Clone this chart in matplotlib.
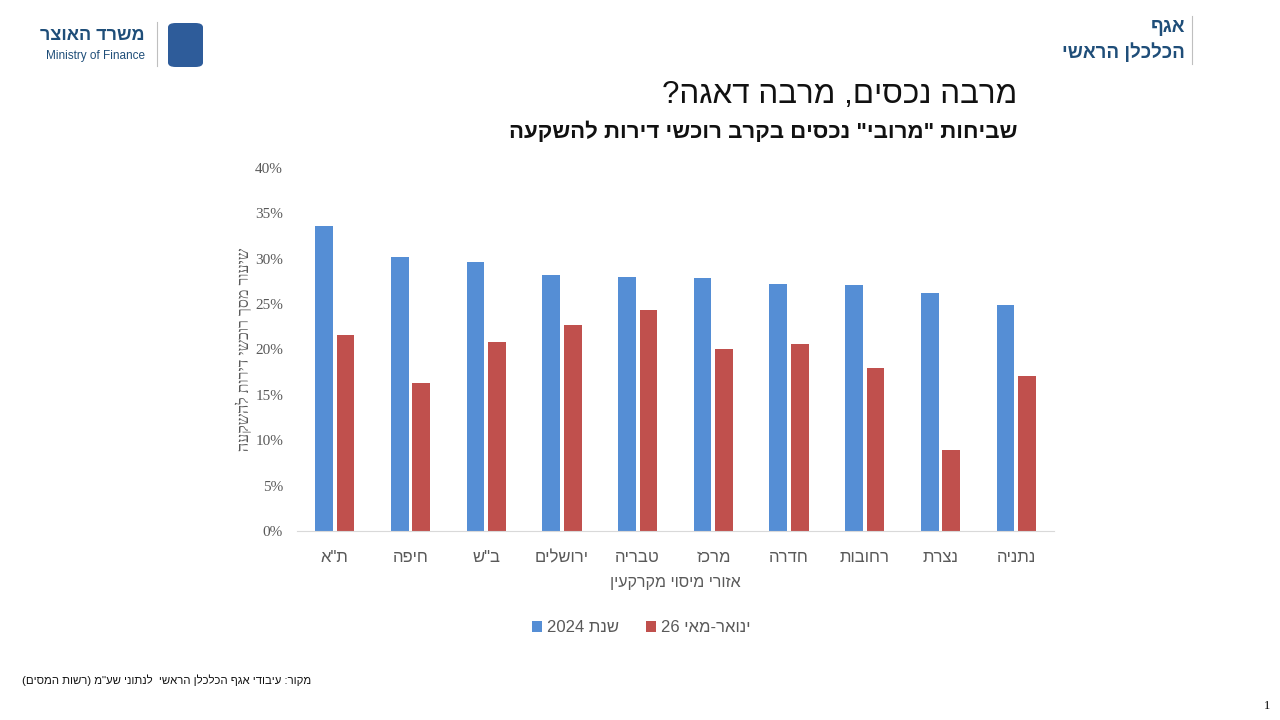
import re
import numpy as np
import matplotlib
matplotlib.use('Agg')
import matplotlib.pyplot as plt
from matplotlib.patches import FancyBboxPatch

# fonts with Hebrew glyphs
SANS = ['Liberation Sans', 'DejaVu Sans']
SERIF = ['Liberation Serif', 'DejaVu Serif']
plt.rcParams['font.family'] = SANS


def rtl(s):
    # matplotlib draws left-to-right, so put Hebrew text in visual order
    parts = re.findall(r'[0-9A-Za-z%.]+|[^0-9A-Za-z%.]', s)
    mirror = {'(': ')', ')': '('}
    return ''.join(mirror.get(p, p) for p in reversed(parts))


# data
regions = ['ת"א', 'חיפה', 'ב"ש', 'ירושלים', 'טבריה', 'מרכז', 'חדרה', 'רחובות', 'נצרת', 'נתניה']
share_2024 = [33.6, 30.2, 29.6, 28.2, 28.0, 27.9, 27.2, 27.1, 26.2, 24.9]
share_2026 = [21.6, 16.3, 20.8, 22.7, 24.4, 20.1, 20.6, 18.0, 8.9, 17.1]
series_names = ['שנת 2024', 'ינואר-מאי 26']
y_ticks = [0, 5, 10, 15, 20, 25, 30, 35, 40]

blue = '#558ed5'
red = '#c0504d'
gray = '#595959'

fig = plt.figure(figsize=(12.8, 7.2), dpi=100)
ax = fig.add_axes([297 / 1280, 1 - 531 / 720, 757 / 1280, 363 / 720])

x = np.arange(len(regions))
w = 0.235
ax.bar(x - 0.142, share_2024, w, color=blue, label=rtl(series_names[0]))
ax.bar(x + 0.142, share_2026, w, color=red, label=rtl(series_names[1]))

ax.set_xlim(-0.5, len(regions) - 0.5)
ax.set_ylim(0, 40)
ax.set_yticks(y_ticks)
ax.set_yticklabels([f'{t}%' for t in y_ticks], family=SERIF, fontsize=11, color=gray)
ax.set_xticks(x)
ax.set_xticklabels([rtl(r) for r in regions], fontsize=12, color=gray)
ax.tick_params(axis='both', length=0)
ax.tick_params(axis='x', pad=14)
ax.tick_params(axis='y', pad=10)
for s in ['top', 'right', 'left']:
    ax.spines[s].set_visible(False)
ax.spines['bottom'].set_color('#d9d9d9')

ax.set_xlabel(rtl('אזורי מיסוי מקרקעין'), fontsize=11.5, color=gray, labelpad=7)
ax.set_ylabel(rtl('שיעור מסך רוכשי דירות להשקעה'), family=SERIF, fontsize=11.5, color=gray)
ax.yaxis.set_label_coords(-0.058, 0.5)

leg = ax.legend(loc='upper center', bbox_to_anchor=(0.455, -0.205), ncol=2, frameon=False,
                fontsize=12, handlelength=0.6, handleheight=0.6, handletextpad=0.3,
                columnspacing=1.6)
for t in leg.get_texts():
    t.set_color(gray)

# titles
fig.text(1017 / 1280, 1 - 95 / 720, rtl('מרבה נכסים, מרבה דאגה?'), ha='right', va='center',
         fontsize=22.6, color='#111111')
fig.text(1017 / 1280, 1 - 132 / 720, rtl('שביחות "מרובי" נכסים בקרב רוכשי דירות להשקעה'),
         ha='right', va='center', fontsize=16, fontweight='bold', color='#111111')

# source and page number
fig.text(22 / 1280, 1 - 680 / 720, rtl('מקור: עיבודי אגף הכלכלן הראשי  לנתוני שע"מ (רשות המסים)'),
         ha='left', va='center', fontsize=8.2, color='#111111')
fig.text(1270 / 1280, 1 - 706 / 720, '1', ha='right', va='center', family=SERIF, fontsize=9)

# header logos (text only)
navy = '#1f4e79'
fig.text(145 / 1280, 1 - 35 / 720, rtl('משרד האוצר'), ha='right', va='center',
         fontsize=13, fontweight='bold', color=navy)
fig.text(145 / 1280, 1 - 56 / 720, 'Ministry of Finance', ha='right', va='center',
         fontsize=8.5, color=navy)
fig.add_artist(plt.Line2D([157 / 1280, 157 / 1280], [1 - 22 / 720, 1 - 66 / 720],
                          color='#bfbfbf', lw=0.8))
fig.add_artist(FancyBboxPatch((168 / 1280, 1 - 67 / 720), 35 / 1280, 44 / 720,
                              boxstyle='round,pad=0,rounding_size=0.006',
                              facecolor='#2e5c9a', edgecolor='none'))

fig.text(1185 / 1280, 1 - 28 / 720, rtl('אגף'), ha='right', va='center',
         fontsize=13.5, fontweight='bold', color=navy)
fig.text(1185 / 1280, 1 - 52 / 720, rtl('הכלכלן הראשי'), ha='right', va='center',
         fontsize=13.5, fontweight='bold', color=navy)
fig.add_artist(plt.Line2D([1192 / 1280, 1192 / 1280], [1 - 16 / 720, 1 - 64 / 720],
                          color='#bfbfbf', lw=0.8))

fig.savefig('out.png', dpi=100)
